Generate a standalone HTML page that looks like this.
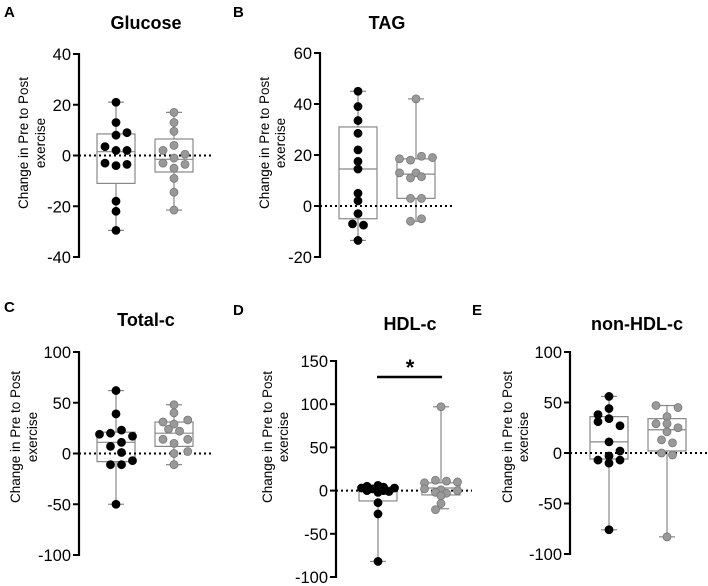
<!DOCTYPE html>
<html><head><meta charset="utf-8"><style>
html,body{margin:0;padding:0;background:#fff;}
svg{display:block;font-family:"Liberation Sans",Arial,sans-serif;}
</style></head><body>
<svg id="fig" width="708" height="586" viewBox="0 0 708 586" xmlns="http://www.w3.org/2000/svg"></svg>
<script>
// ---- data ----
const panelTitles = ["Glucose","TAG","Total-c","HDL-c","non-HDL-c"];
const panelLetters = ["A","B","C","D","E"];
const yTicksA = [-40,-20,0,20,40];
const yTicksB = [-20,0,20,40,60];
const yTicksC = [-100,-50,0,50,100];
const yTicksD = [-100,-50,0,50,100,150];
const yTicksE = [-100,-50,0,50,100];
const blackA = [21,13,8,9,3.5,2,2,-3,-4,-3.5,-18,-22,-29.5];
const blackAj = [0,0,0,2,-2,0,2,-2,0,2,0,0,0];
const grayA = [17,13,9.5,4,2,0.5,-1,-3,-3.5,-5,-9,-14.5,-21.5];
const grayAj = [0,0,0,0,-2,2,0,-2,2,0,0,0,0];
const boxBlackA = [-29.5,-11,1.5,8.5,21];
const boxGrayA = [-21.5,-6.5,-1.5,6.5,17];

const blackB = [45,39,33.5,28.5,22,17.5,14.5,5,2,-3,-7,-7.5,-13.5];
const blackBj = [0,0,0,0,0,0,0,0,0,0,-1,1,0];
const grayB = [42,18.5,18,19.5,19,13,13,11,11.5,3,3,-6,-5];
const grayBj = [0,-3,-1,1,3,-3,0,-1,1,-1,1,-1,1];
const boxBlackB = [-13.5,-5,14.5,31,45];
const boxGrayB = [-6,3,12.5,18.5,42];

const blackC = [62,39,23,20,19,17,11,7,1,-7,-11,-11,-50];
const blackCj = [0,0,1,-1,-3,3,1,-1,1,3,-1,1,0];
const grayC = [48,40,33,31,29,24,22,14,14,10,2,0,-11];
const grayCj = [0,0,2.5,-2,0,-1,1,-2,2.5,0,2.5,0,0];
const boxBlackC = [-50,-8,11,21,62];
const boxGrayC = [-11,7,20,31,48];

const blackD = [6,5,4,3,3,2,0,0,-1,-2,-14,-27,-82];
const blackDj = [0,-2,1,-3,3,-1,-2,1,2,0,0,0,0];
const grayD = [97,12,11,10,9,2,1,0,-2,-3,-6,-15,-22];
const grayDj = [0,-1,1,3,-3,-3,0,3,-1,1,0,0,-1];
const boxBlackD = [-82,-12,-1,4,6];
const boxGrayD = [-21,-5,3,9,97];

const blackE = [56,44,38,34,31,27,11,2,-3,-7,-10,-7,-76];
const blackEj = [0,0,-2,0,-2,2,0,2,0,-2,0,2,0];
const grayE = [47,45,36,29,29,25,21,13,10,0,-2,-83];
const grayEj = [-2,2,0,-2,0,2,0,-1,1,-1,1,0];
const boxBlackE = [-76,-6,11,36,56];
const boxGrayE = [-83,2,23,34,47];

const NS="http://www.w3.org/2000/svg";
const svg=document.getElementById('fig');
function mk(tag,attrs,parent){const e=document.createElementNS(NS,tag);for(const k in attrs)e.setAttribute(k,attrs[k]);(parent||svg).appendChild(e);return e;}

const panels=[
 {ticks:yTicksA,ax:79,top:54,bot:257,bc:116,gc:174,dotEnd:213,title:[146,29],letter:[4,17],lab:[23,40,143],
  b:blackA,bj:blackAj,g:grayA,gj:grayAj,bb:boxBlackA,gb:boxGrayA},
 {ticks:yTicksB,ax:320,top:53,bot:257,bc:358,gc:416,dotEnd:455,title:[387,29],letter:[233,17],lab:[264,280,143],
  b:blackB,bj:blackBj,g:grayB,gj:grayBj,bb:boxBlackB,gb:boxGrayB},
 {ticks:yTicksC,ax:79,top:352,bot:555,bc:116,gc:174,dotEnd:213,title:[146,326],letter:[4,312],lab:[15,32,437],
  b:blackC,bj:blackCj,g:grayC,gj:grayCj,bb:boxBlackC,gb:boxGrayC},
 {ticks:yTicksD,ax:336,top:361,bot:577,bc:378,gc:441,dotEnd:472,title:[410,330],letter:[233,315],lab:[267,283,437],
  b:blackD,bj:blackDj,g:grayD,gj:grayDj,bb:boxBlackD,gb:boxGrayD,sig:true},
 {ticks:yTicksE,ax:570,top:352,bot:554,bc:609,gc:667,dotEnd:708,title:[637,330],letter:[472,315],lab:[507,523,437],
  b:blackE,bj:blackEj,g:grayE,gj:grayEj,bb:boxBlackE,gb:boxGrayE}
];

panels.forEach((p,i)=>{
  const g=mk('g',{});
  
  
  const t0=p.ticks[0],t1=p.ticks[p.ticks.length-1];
  const y=v=>p.bot-(v-t0)/(t1-t0)*(p.bot-p.top);
  const L=mk('text',{x:p.letter[0],y:p.letter[1],'font-size':15,'font-weight':'bold'},g);L.textContent=panelLetters[i];
  
  const T=mk('text',{x:p.title[0],y:p.title[1],'font-size':18,'font-weight':'bold','text-anchor':'middle'},g);T.textContent=panelTitles[i];
  
  const yl=mk('text',{transform:`translate(${p.lab[0]+5},${p.lab[2]}) rotate(-90)`,'font-size':13.5,'text-anchor':'middle'},g);
  yl.textContent='Change in Pre to Post';
  
  const yl2=mk('text',{transform:`translate(${p.lab[1]+5},${p.lab[2]}) rotate(-90)`,'font-size':13.5,'text-anchor':'middle'},g);
  yl2.textContent='exercise';
  
  const ax=mk('line',{x1:p.ax,x2:p.ax,y1:p.top-1,y2:p.bot+1,stroke:'#000','stroke-width':2.2},g);
  
  p.ticks.forEach(tv=>{
    mk('line',{x1:p.ax-6,x2:p.ax,y1:y(tv),y2:y(tv),stroke:'#000','stroke-width':2},g);
    const tl=mk('text',{x:p.ax-8,y:y(tv)+6,'font-size':16.5,'text-anchor':'end'},g);tl.textContent=tv;
    
  });
  const draw=(cx,bx,vals,jit,fill,name)=>{
    const bg=mk('g',{},g);
    
    const hw=19,cap=8;
    mk('line',{x1:cx,x2:cx,y1:y(bx[0]),y2:y(bx[4]),stroke:'#888','stroke-width':1.2},bg);
    mk('line',{x1:cx-cap,x2:cx+cap,y1:y(bx[0]),y2:y(bx[0]),stroke:'#888','stroke-width':1.2},bg);
    mk('line',{x1:cx-cap,x2:cx+cap,y1:y(bx[4]),y2:y(bx[4]),stroke:'#888','stroke-width':1.2},bg);
    mk('rect',{x:cx-hw,y:y(bx[3]),width:2*hw,height:y(bx[1])-y(bx[3]),fill:'#fff',stroke:'#888','stroke-width':1.2},bg);
    mk('line',{x1:cx-hw,x2:cx+hw,y1:y(bx[2]),y2:y(bx[2]),stroke:'#888','stroke-width':1.2},bg);
  };
  const pts=(cx,vals,jit,fill,name)=>{
    vals.forEach((v,k)=>{
      const c=mk('circle',{cx:cx+jit[k]*5.5,cy:y(v),r:4,fill:fill,stroke:fill==='#000'?'#000':'#777','stroke-width':0.8},g);
      
      
    });
  };
  draw(p.bc,p.bb,p.b,p.bj,'#000','group1');
  draw(p.gc,p.gb,p.g,p.gj,'#999','group2');
  const zl=mk('line',{x1:p.ax,x2:p.dotEnd,y1:y(0),y2:y(0),stroke:'#000','stroke-width':2,'stroke-dasharray':'2,3'},g);
  
  pts(p.bc,p.b,p.bj,'#000','group1');
  pts(p.gc,p.g,p.gj,'#999','group2');
  if(p.sig){
    const sb=mk('line',{x1:377,x2:442,y1:377,y2:377,stroke:'#000','stroke-width':2.5},g);
    
    const st=mk('text',{x:410,y:375,'font-size':22,'font-weight':'bold','text-anchor':'middle'},g);st.textContent='*';
    
  }
});
</script>
</body></html>
